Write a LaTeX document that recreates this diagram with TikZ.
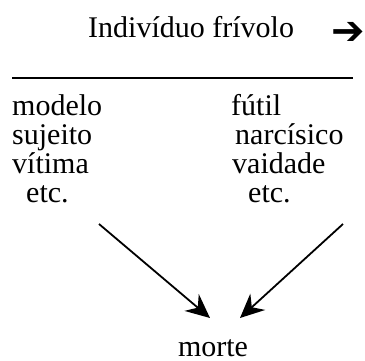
\documentclass[tikz,border=0pt]{standalone}
\usepackage{fontspec}
\setmainfont{Liberation Serif}
\newfontfamily\symfont{DejaVu Sans Bold}
\usetikzlibrary{arrows.meta,positioning}

\begin{document}
\begin{tikzpicture}[x=1bp, y=-1bp]
\tikzset{wordtext/.style={anchor=base west, inner sep=0pt, font=\fontsize{30bp}{36bp}\selectfont, text=black}, arrowstyle/.style={-{Stealth[length=24bp, width=22bp, inset=8bp]}, line width=1.8bp, black}}
\useasboundingbox (0,0) rectangle (365,361);
\node[wordtext] (title) at (88,37) {Indivíduo frívolo};
\node[anchor=center, inner sep=0pt, font=\symfont\fontsize{40bp}{44bp}\selectfont] (titlearrow) at (348,33) {➔};
% the ruled line under the title
\coordinate (ruleleft) at (12,78);
\coordinate (ruleright) at (353,78);
\draw[line width=1.3bp] (ruleleft) -- (ruleright);
% left column
\node[wordtext] (modelo) at (12,115) {modelo};
\node[wordtext] (sujeito) at (12,144) {sujeito};
\node[wordtext] (vitima) at (12,173) {vítima};
\node[wordtext] (etcleft) at (26,202) {etc.};
% right column
\node[wordtext] (futil) at (231,115) {fútil};
\node[wordtext] (narcisico) at (235,144) {narcísico};
\node[wordtext] (vaidade) at (232,173) {vaidade};
\node[wordtext] (etcright) at (248,202) {etc.};
\node[wordtext, anchor=base] (morte) at (213,356) {morte};
\coordinate (fromleft) at (99,224);
\coordinate (fromright) at (343,224);
\coordinate (toleft) at (210,318);
\coordinate (toright) at (240,318);
\draw[arrowstyle] (fromleft) -- (toleft);
\draw[arrowstyle] (fromright) -- (toright);
\end{tikzpicture}
\end{document}
